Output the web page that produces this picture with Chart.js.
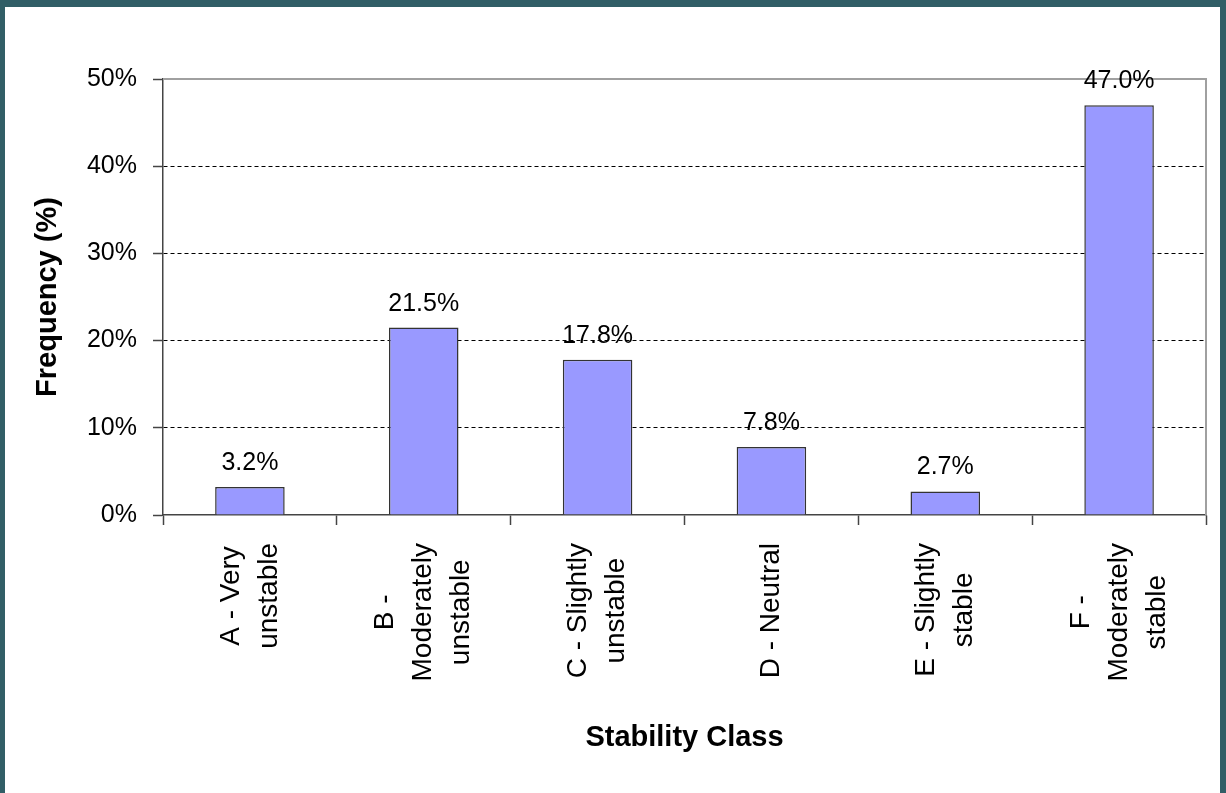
<!DOCTYPE html>
<html>
<head>
<meta charset="utf-8">
<script src="https://cdn.jsdelivr.net/npm/chart.js@4"></script>
<style>
	html, body { margin: 0; padding: 0; background: #fff; }
	#wrap { width: 1226px; height: 793px; }
</style>
</head>
<body>
<div id="wrap"><canvas id="stability_chart" width="1226" height="793"></canvas></div>
<script>
	// data
	const classes = [
		['A - Very', 'unstable'],
		['B -', 'Moderately', 'unstable'],
		['C - Slightly', 'unstable'],
		['D - Neutral'],
		['E - Slightly', 'stable'],
		['F -', 'Moderately', 'stable']
	];
	const frequency = [3.2, 21.5, 17.8, 7.8, 2.7, 47.0];
	const yTicks = [0, 10, 20, 30, 40, 50];

	const FONT = "'Liberation Sans', Arial, sans-serif";

	//frame + white background
	const framePlugin = {
		id: 'frame',
		beforeDraw: (chart) => {
			const ctx = chart.ctx;
			ctx.save();
			ctx.fillStyle = '#ffffff';
			ctx.fillRect(0, 0, chart.width, chart.height);
			ctx.fillStyle = '#315e66';
			ctx.fillRect(0, 0, chart.width, 7);
			ctx.fillRect(0, 0, 5, chart.height);
			ctx.fillRect(chart.width - 6, 0, 6, chart.height);
			ctx.restore();
		}
	};

	//grey top/right border of the plot area
	const plotBorder = {
		id: 'plotBorder',
		beforeDatasetsDraw: (chart) => {
			const a = chart.chartArea;
			const ctx = chart.ctx;
			ctx.save();
			ctx.strokeStyle = '#a0a0a0';
			ctx.lineWidth = 2;
			ctx.beginPath();
			ctx.moveTo(a.left, a.top);
			ctx.lineTo(a.right, a.top);
			ctx.lineTo(a.right, a.bottom);
			ctx.stroke();
			ctx.restore();
		}
	};

	//value labels above bars + rotated category labels
	const labelsPlugin = {
		id: 'labels',
		afterDraw: (chart) => {
			const ctx = chart.ctx;
			const meta = chart.getDatasetMeta(0);
			const xScale = chart.scales.x;
			ctx.save();
			ctx.fillStyle = '#000';
			ctx.font = '25px ' + FONT;
			ctx.textAlign = 'center';
			ctx.textBaseline = 'alphabetic';
			meta.data.forEach((bar, i) => {
				ctx.fillText(frequency[i].toFixed(1) + '%', bar.x, bar.y - 17);
			});

			ctx.font = '28px ' + FONT;
			ctx.textBaseline = 'middle';
			const top = xScale.top + 28;
			const lineGap = 38;
			classes.forEach((lines, i) => {
				const cx = xScale.getPixelForValue(i);
				const maxW = Math.max(...lines.map(l => ctx.measureText(l).width));
				const cy = top + maxW / 2;
				lines.forEach((line, j) => {
					const off = (j - (lines.length - 1) / 2) * lineGap;
					ctx.save();
					ctx.translate(cx + off, cy);
					ctx.rotate(-Math.PI / 2);
					ctx.fillText(line, 0, 0);
					ctx.restore();
				});
			});
			ctx.restore();
		}
	};

	const ctx = document.getElementById('stability_chart').getContext('2d');
	const chart = new Chart(ctx, {
		type: 'bar',
		data: {
			labels: classes,
			datasets: [{
				label: 'Frequency',
				data: frequency,
				backgroundColor: '#9999ff',
				borderColor: '#333333',
				borderWidth: 1.5,
				barPercentage: 0.4,
				categoryPercentage: 1.0
			}]
		},
		options: {
			responsive: false,
			animation: false,
			events: [],
			layout: { padding: { top: 79, right: 20, bottom: 0, left: 0 } },
			plugins: {
				legend: { display: false },
				tooltip: { enabled: false }
			},
			scales: {
				x: {
					grid: {
						offset: true,
						drawOnChartArea: false,
						tickLength: 10,
						tickColor: '#444',
						tickWidth: 1.5
					},
					border: { color: '#444', width: 1.5 },
					ticks: { display: false },
					title: {
						display: true,
						text: 'Stability Class',
						color: '#000',
						font: { family: FONT, size: 29, weight: 'bold' },
						padding: { top: 0, bottom: 38 }
					},
					afterFit: (scale) => { scale.height = 278; }
				},
				y: {
					min: 0,
					max: 50,
					afterBuildTicks: (scale) => {
						scale.ticks = yTicks.map(v => ({ value: v }));
					},
					grid: {
						color: (c) => (c.tick && (c.tick.value === 0 || c.tick.value === 50)) ? 'rgba(0,0,0,0)' : '#000',
						lineWidth: 1,
						tickLength: 10,
						tickColor: '#444',
						tickWidth: 1.5,
						tickBorderDash: []
					},
					border: { color: '#444', width: 1.5, dash: [4, 3] },
					ticks: {
						color: '#000',
						padding: 16,
						font: { family: FONT, size: 25 },
						callback: (v) => v + '%'
					},
					title: {
						display: true,
						text: 'Frequency (%)',
						color: '#000',
						font: { family: FONT, size: 29, weight: 'bold' },
						padding: { top: 31, bottom: 0 }
					},
					afterFit: (scale) => { scale.width = 163; }
				}
			}
		},
		plugins: [framePlugin, plotBorder, labelsPlugin]
	});
</script>
</body>
</html>
